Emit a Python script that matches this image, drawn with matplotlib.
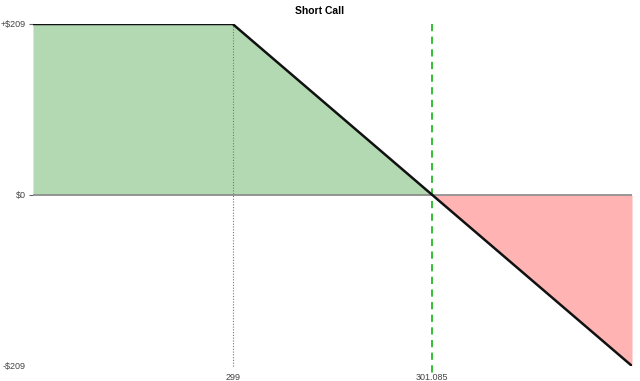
import matplotlib
matplotlib.use("Agg")
import matplotlib.pyplot as plt
import numpy as np

title = "Short Call"
strike = 299.0
breakeven = 301.085
premium = 209
price_min = 296.915
price_max = 303.17
x_ticks = [299, 301.085]
x_tick_labels = ["299", "301.085"]
y_ticks = [209, 0, -209]
y_tick_labels = ["+$209", "$0", "-$209"]

prices = np.array([price_min, strike, breakeven, price_max])
pnl = np.array([premium, premium, 0, -premium])

fig = plt.figure(figsize=(6.4, 3.81), dpi=100)
ax = fig.add_axes([33/640, 1-366/381, (632-33)/640, (366-24)/381])

ax.fill_between(prices, pnl, 0, where=pnl >= 0, interpolate=True, color="#b3d9b3", lw=0)
ax.fill_between(prices, pnl, 0, where=pnl <= 0, interpolate=True, color="#ffb3b3", lw=0)
ax.axhline(0, color="#888888", lw=1.2, zorder=2)
ax.axvline(strike, color="#777777", lw=0.8, ls=(0, (1, 1.5)), ymin=0, ymax=1, zorder=2, clip_on=False)
ax.plot([breakeven, breakeven], [premium, -premium - 8], color="#22bb22", lw=1.3, ls=(0, (4, 3)), zorder=3, clip_on=False)
ax.plot(prices, pnl, color="#111111", lw=1.8, zorder=4, solid_capstyle="butt")

ax.set_xlim(price_min, price_max)
ax.set_ylim(-premium, premium)
for s in ax.spines.values():
    s.set_visible(False)
ax.set_xticks(x_ticks)
ax.set_xticklabels(x_tick_labels)
ax.set_yticks(y_ticks)
ax.set_yticklabels(y_tick_labels)
ax.tick_params(axis="x", length=0, pad=5, labelsize=6.5, labelcolor="#444444")
ax.tick_params(axis="y", length=3, width=0.8, color="#666666", pad=2, labelsize=6.5, labelcolor="#444444")
ax.yaxis.get_major_ticks()[2].tick1line.set_visible(False)
ax.yaxis.get_major_ticks()[2].label1.set_y(-0.005)
fig.suptitle(title, x=0.5, y=0.985, fontsize=7.5, fontweight="bold", family="Liberation Sans")
for lbl in ax.get_xticklabels() + ax.get_yticklabels():
    lbl.set_family("Liberation Sans")

fig.savefig("out.png", dpi=100)
